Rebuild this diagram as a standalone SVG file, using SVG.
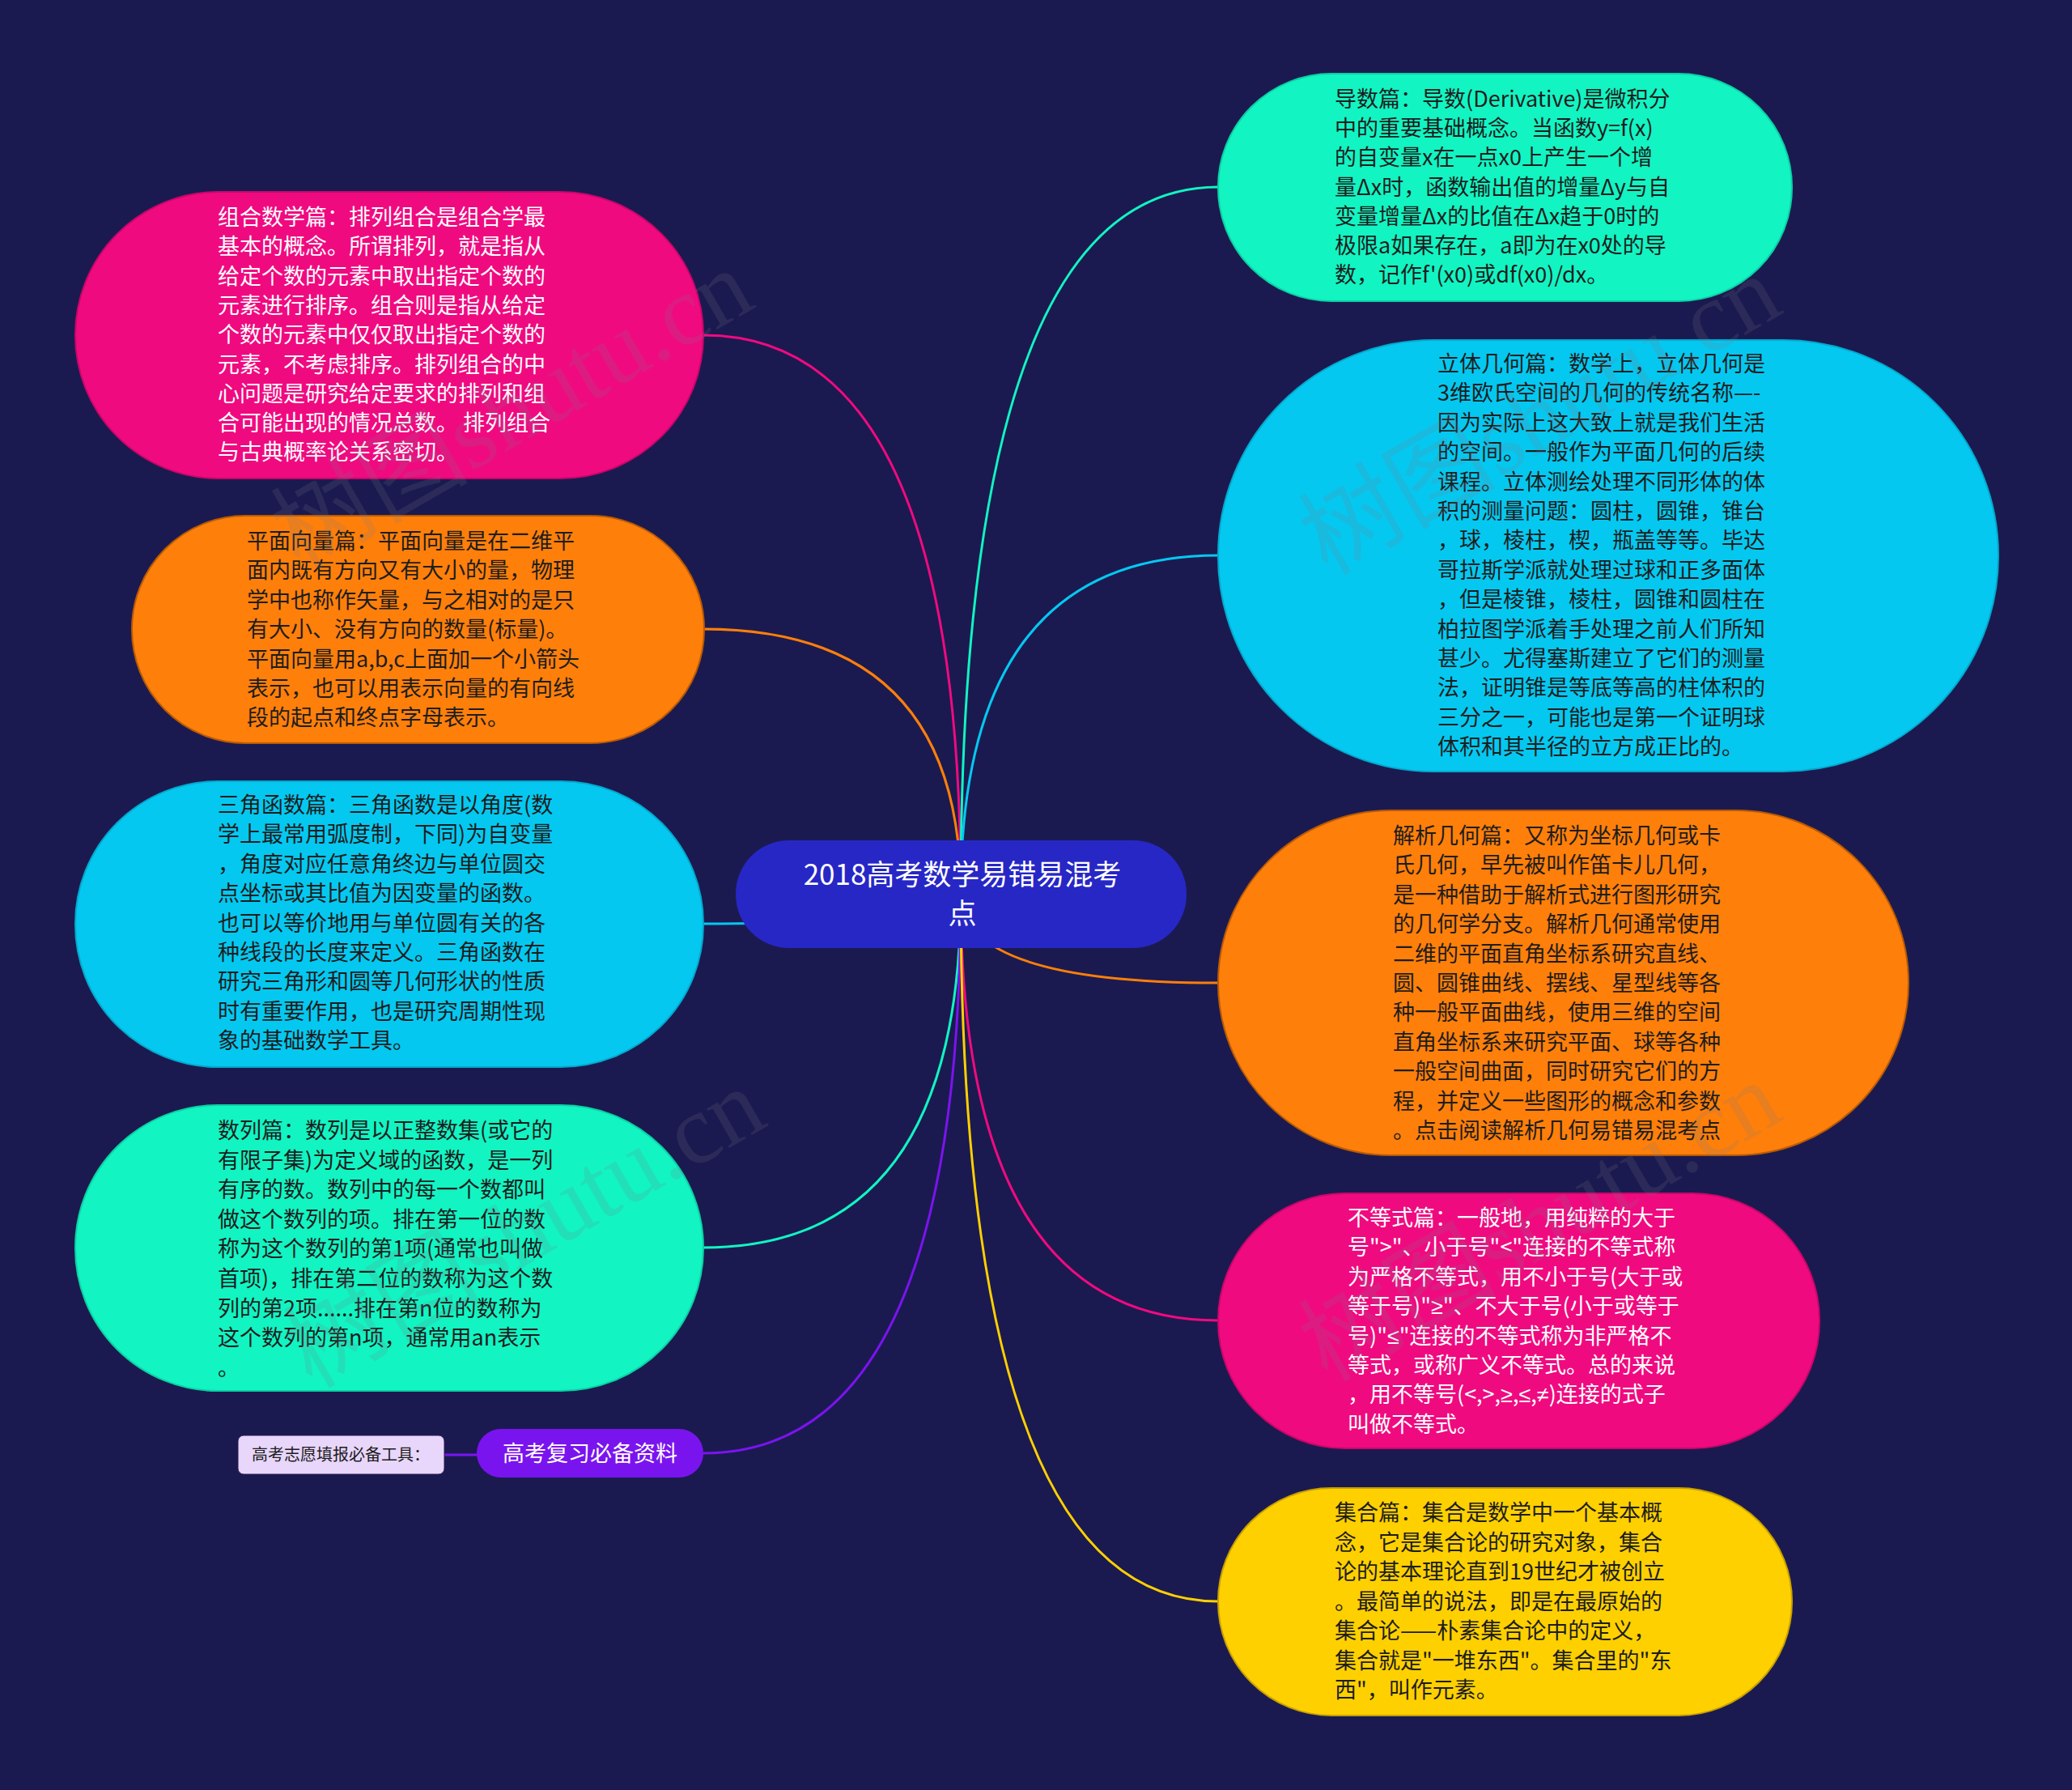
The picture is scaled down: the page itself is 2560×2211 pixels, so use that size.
<svg xmlns="http://www.w3.org/2000/svg" width="2560" height="2211" viewBox="0 0 2560 2211">
<style>
.t{font-family:"Noto Sans CJK SC","Noto Sans",sans-serif;font-size:27px}
.w{fill:#ffffff}
.d{fill:#1d1d1d}
.m{font-family:"Liberation Sans","DejaVu Sans",sans-serif}
.lk{fill:none;stroke-width:3;stroke-linecap:round}
.wm{font-family:"Liberation Serif","Noto Sans CJK SC",serif;font-size:122px;fill:#7a7a8a;opacity:0.17}
</style>
<rect x="0" y="0" width="2560" height="2211" fill="#1b1a50"/>
<g id="connectors">
<path class="lk" stroke="#f00a80" d="M1187,1104 Q1187,414 869,414"/>
<path class="lk" stroke="#fe7f0a" d="M1187,1104 Q1187,777 869,777"/>
<path class="lk" stroke="#05c8f0" d="M1187,1104 Q1187,1141 869,1141"/>
<path class="lk" stroke="#12f4c2" d="M1187,1104 Q1187,1541 869,1541"/>
<path class="lk" stroke="#7a14ef" d="M1187,1104 Q1187,1795 869,1795"/>
<path class="lk" stroke="#7a14ef" d="M549,1797 L589,1797"/>
<path class="lk" stroke="#12f4c2" d="M1187,1104 Q1187,231 1505,231"/>
<path class="lk" stroke="#05c8f0" d="M1187,1104 Q1187,686 1505,686"/>
<path class="lk" stroke="#fe7f0a" d="M1187,1104 Q1187,1214 1505,1214"/>
<path class="lk" stroke="#f00a80" d="M1187,1104 Q1187,1631 1505,1631"/>
<path class="lk" stroke="#fed000" d="M1187,1104 Q1187,1978 1505,1978"/>
</g>
<g id="n-zuhe">
<rect x="93" y="237" width="776" height="354" rx="177" fill="#f00a80" stroke="#c8066a" stroke-width="2"/>
<text class="t w" x="269" y="278"><tspan x="269">组合数学篇：排列组合是组合学最</tspan><tspan x="269" dy="36.3">基本的概念。所谓排列，就是指从</tspan><tspan x="269" dy="36.3">给定个数的元素中取出指定个数的</tspan><tspan x="269" dy="36.3">元素进行排序。组合则是指从给定</tspan><tspan x="269" dy="36.3">个数的元素中仅仅取出指定个数的</tspan><tspan x="269" dy="36.3">元素，不考虑排序。排列组合的中</tspan><tspan x="269" dy="36.3">心问题是研究给定要求的排列和组</tspan><tspan x="269" dy="36.3">合可能出现的情况总数。 排列组合</tspan><tspan x="269" dy="36.3">与古典概率论关系密切。</tspan></text>
</g>
<g id="n-xiangliang">
<rect x="163" y="637" width="707" height="281" rx="140" fill="#fe7f0a" stroke="#b85a05" stroke-width="2"/>
<text class="t d" x="305" y="678"><tspan x="305">平面向量篇：平面向量是在二维平</tspan><tspan x="305" dy="36.4">面内既有方向又有大小的量，物理</tspan><tspan x="305" dy="36.4">学中也称作矢量，与之相对的是只</tspan><tspan x="305" dy="36.4">有大小、没有方向的数量(标量)。</tspan><tspan x="305" dy="36.4">平面向量用a,b,c上面加一个小箭头</tspan><tspan x="305" dy="36.4">表示，也可以用表示向量的有向线</tspan><tspan x="305" dy="36.4">段的起点和终点字母表示。</tspan></text>
</g>
<g id="n-sanjiao">
<rect x="93" y="965" width="776" height="353" rx="176" fill="#05c8f0" stroke="#04a8cc" stroke-width="2"/>
<text class="t d" x="269" y="1004"><tspan x="269">三角函数篇：三角函数是以角度(数</tspan><tspan x="269" dy="36.4">学上最常用弧度制，下同)为自变量</tspan><tspan x="269" dy="36.4">，角度对应任意角终边与单位圆交</tspan><tspan x="269" dy="36.4">点坐标或其比值为因变量的函数。</tspan><tspan x="269" dy="36.4">也可以等价地用与单位圆有关的各</tspan><tspan x="269" dy="36.4">种线段的长度来定义。三角函数在</tspan><tspan x="269" dy="36.4">研究三角形和圆等几何形状的性质</tspan><tspan x="269" dy="36.4">时有重要作用，也是研究周期性现</tspan><tspan x="269" dy="36.4">象的基础数学工具。</tspan></text>
</g>
<g id="n-shulie">
<rect x="93" y="1365" width="776" height="353" rx="176" fill="#12f4c2" stroke="#0ccfa4" stroke-width="2"/>
<text class="t d" x="269" y="1406"><tspan x="269">数列篇：数列是以正整数集(或它的</tspan><tspan x="269" dy="36.6">有限子集)为定义域的函数，是一列</tspan><tspan x="269" dy="36.6">有序的数。数列中的每一个数都叫</tspan><tspan x="269" dy="36.6">做这个数列的项。排在第一位的数</tspan><tspan x="269" dy="36.6">称为这个数列的第1项(通常也叫做</tspan><tspan x="269" dy="36.6">首项)，排在第二位的数称为这个数</tspan><tspan x="269" dy="36.6">列的第2项......排在第n位的数称为</tspan><tspan x="269" dy="36.6">这个数列的第n项，通常用an表示</tspan><tspan x="269" dy="36.6">。</tspan></text>
</g>
<g id="n-fuxi">
<rect x="589" y="1765" width="280" height="60" rx="30" fill="#7a14ef"/>
<text class="t w" x="729" y="1805" text-anchor="middle">高考复习必备资料</text>
</g>
<g id="n-zhiyuan">
<rect x="294" y="1773" width="255" height="48" rx="7" fill="#e8d6fb" stroke="#2a1a50" stroke-width="1"/>
<text class="t d" x="421" y="1804" text-anchor="middle" style="font-size:20px">高考志愿填报必备工具：</text>
</g>
<g id="n-center">
<rect x="909" y="1038" width="557" height="133" rx="66" fill="#2727c6"/>
<text class="t w" x="1189" y="1093" text-anchor="middle" style="font-size:35px">2018高考数学易错易混考</text>
<text class="t w" x="1189" y="1141" text-anchor="middle" style="font-size:35px">点</text>
</g>
<g id="n-daoshu">
<rect x="1505" y="91" width="709" height="281" rx="140" fill="#12f4c2" stroke="#0ccfa4" stroke-width="2"/>
<text class="t d" x="1649" y="132"><tspan x="1649">导数篇：导数(Derivative)是微积分</tspan><tspan x="1649" dy="36.2">中的重要基础概念。当函数y=f(x)</tspan><tspan x="1649" dy="36.2">的自变量x在一点x0上产生一个增</tspan><tspan x="1649" dy="36.2">量Δx时，函数输出值的增量Δy与自</tspan><tspan x="1649" dy="36.2">变量增量Δx的比值在Δx趋于0时的</tspan><tspan x="1649" dy="36.2">极限a如果存在，a即为在x0处的导</tspan><tspan x="1649" dy="36.2">数，记作f'(x0)或df(x0)/dx。</tspan></text>
</g>
<g id="n-liti">
<rect x="1505" y="420" width="964" height="533" rx="266" fill="#05c8f0" stroke="#04a8cc" stroke-width="2"/>
<text class="t d" x="1776" y="459"><tspan x="1776">立体几何篇：数学上，立体几何是</tspan><tspan x="1776" dy="36.4">3维欧氏空间的几何的传统名称—-</tspan><tspan x="1776" dy="36.4">因为实际上这大致上就是我们生活</tspan><tspan x="1776" dy="36.4">的空间。一般作为平面几何的后续</tspan><tspan x="1776" dy="36.4">课程。立体测绘处理不同形体的体</tspan><tspan x="1776" dy="36.4">积的测量问题：圆柱，圆锥，锥台</tspan><tspan x="1776" dy="36.4">，球，棱柱，楔，瓶盖等等。毕达</tspan><tspan x="1776" dy="36.4">哥拉斯学派就处理过球和正多面体</tspan><tspan x="1776" dy="36.4">，但是棱锥，棱柱，圆锥和圆柱在</tspan><tspan x="1776" dy="36.4">柏拉图学派着手处理之前人们所知</tspan><tspan x="1776" dy="36.4">甚少。尤得塞斯建立了它们的测量</tspan><tspan x="1776" dy="36.4">法，证明锥是等底等高的柱体积的</tspan><tspan x="1776" dy="36.4">三分之一，可能也是第一个证明球</tspan><tspan x="1776" dy="36.4">体积和其半径的立方成正比的。</tspan></text>
</g>
<g id="n-jiexi">
<rect x="1505" y="1001" width="853" height="426" rx="213" fill="#fe7f0a" stroke="#b85a05" stroke-width="2"/>
<text class="t d" x="1721" y="1042"><tspan x="1721">解析几何篇：又称为坐标几何或卡</tspan><tspan x="1721" dy="36.4">氏几何，早先被叫作笛卡儿几何，</tspan><tspan x="1721" dy="36.4">是一种借助于解析式进行图形研究</tspan><tspan x="1721" dy="36.4">的几何学分支。解析几何通常使用</tspan><tspan x="1721" dy="36.4">二维的平面直角坐标系研究直线、</tspan><tspan x="1721" dy="36.4">圆、圆锥曲线、摆线、星型线等各</tspan><tspan x="1721" dy="36.4">种一般平面曲线，使用三维的空间</tspan><tspan x="1721" dy="36.4">直角坐标系来研究平面、球等各种</tspan><tspan x="1721" dy="36.4">一般空间曲面，同时研究它们的方</tspan><tspan x="1721" dy="36.4">程，并定义一些图形的概念和参数</tspan><tspan x="1721" dy="36.4">。点击阅读解析几何易错易混考点</tspan></text>
</g>
<g id="n-budengshi">
<rect x="1505" y="1474" width="743" height="315" rx="157" fill="#f00a80" stroke="#c8066a" stroke-width="2"/>
<text class="t w" x="1665" y="1514"><tspan x="1665">不等式篇：一般地，用纯粹的大于</tspan><tspan x="1665" dy="36.4">号"&gt;"、小于号"&lt;"连接的不等式称</tspan><tspan x="1665" dy="36.4">为严格不等式，用不小于号(大于或</tspan><tspan x="1665" dy="36.4">等于号)"<tspan class="m">≥</tspan>"、不大于号(小于或等于</tspan><tspan x="1665" dy="36.4">号)"<tspan class="m">≤</tspan>"连接的不等式称为非严格不</tspan><tspan x="1665" dy="36.4">等式，或称广义不等式。总的来说</tspan><tspan x="1665" dy="36.4">，用不等号(&lt;,&gt;,<tspan class="m">≥</tspan>,<tspan class="m">≤</tspan>,<tspan class="m">≠</tspan>)连接的式子</tspan><tspan x="1665" dy="36.4">叫做不等式。</tspan></text>
</g>
<g id="n-jihe">
<rect x="1505" y="1838" width="709" height="281" rx="140" fill="#fed000" stroke="#c8a000" stroke-width="2"/>
<text class="t d" x="1649" y="1878"><tspan x="1649">集合篇：集合是数学中一个基本概</tspan><tspan x="1649" dy="36.5">念，它是集合论的研究对象，集合</tspan><tspan x="1649" dy="36.5">论的基本理论直到19世纪才被创立</tspan><tspan x="1649" dy="36.5">。最简单的说法，即是在最原始的</tspan><tspan x="1649" dy="36.5">集合论——朴素集合论中的定义，</tspan><tspan x="1649" dy="36.5">集合就是"一堆东西"。集合里的"东</tspan><tspan x="1649" dy="36.5">西"，叫作元素。</tspan></text>
</g>
<g id="watermarks">
<text class="wm" transform="translate(370,705) rotate(-30)">树图shutu.cn</text>
<text class="wm" transform="translate(1640,712) rotate(-30)">树图shutu.cn</text>
<text class="wm" transform="translate(385,1716) rotate(-30)">树图shutu.cn</text>
<text class="wm" transform="translate(1640,1708) rotate(-30)">树图shutu.cn</text>
</g>
</svg>
